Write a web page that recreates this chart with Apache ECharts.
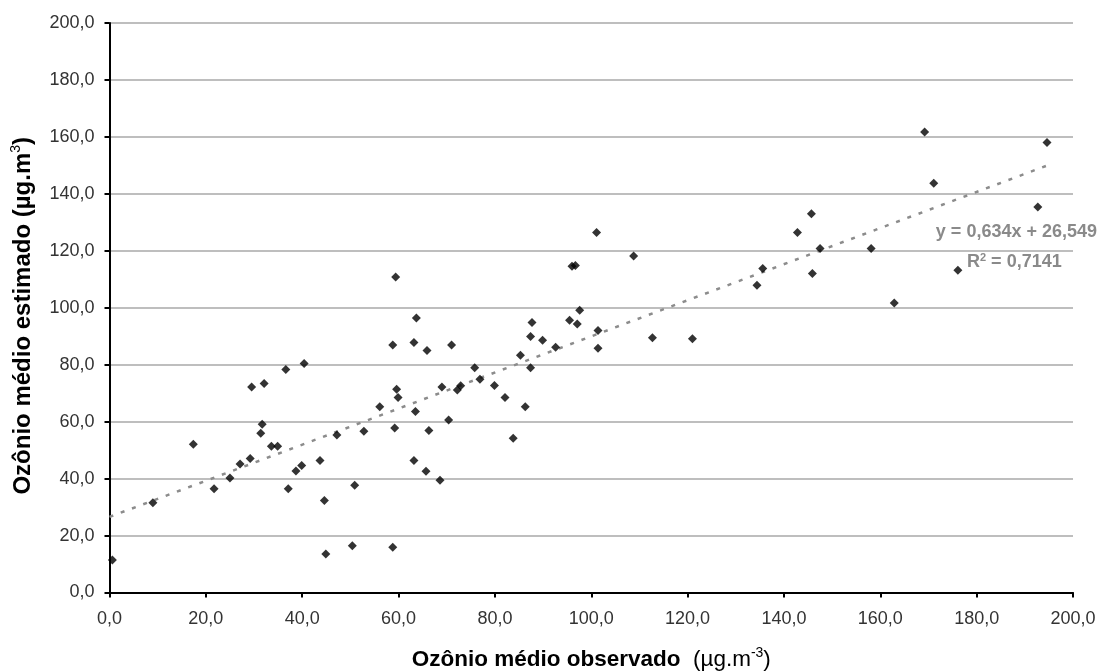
<!DOCTYPE html>
<html><head><meta charset="utf-8">
<script src="https://cdn.jsdelivr.net/npm/echarts@6/dist/echarts.min.js"></script>
<style>html,body{margin:0;padding:0;background:#fff}#c{width:1099px;height:671px}</style>
</head><body><div id="c"></div>
<script>
const observed = [0.6,9.0,17.4,21.7,25.0,27.1,29.2,29.5,32.1,31.7,31.4,33.6,34.9,36.6,37.1,38.7,39.9,40.4,43.7,44.6,44.9,47.2,50.4,50.9,
  59.4,63.7,58.8,63.2,65.9,71.0,59.6,59.9,56.1,52.8,59.2,63.5,66.3,69.0,70.4,72.2,72.9,75.8,76.9,79.9,82.1,86.3,83.8,63.2,65.7,68.6,58.8,
  85.3,87.4,87.7,87.4,89.9,92.6,95.5,97.1,96.0,96.7,97.6,101.1,108.8,101.4,101.4,112.7,121.0,134.4,
  135.6,142.8,145.7,145.9,147.5,158.1,162.9,169.2,171.1,176.1,192.7,194.6];
const estimated = [11.4,31.5,52.1,36.4,40.2,45.1,47.1,72.2,73.4,59.1,55.9,51.4,51.4,78.3,36.4,42.7,44.6,80.4,46.4,32.3,13.5,55.3,16.4,37.7,
  110.8,96.4,86.9,87.8,85.0,86.9,71.4,68.5,65.2,56.6,57.8,63.6,56.9,72.2,60.6,71.1,72.6,78.9,74.9,72.7,68.5,65.2,54.2,46.4,42.6,39.4,15.9,
  83.3,89.9,94.8,78.9,88.6,86.1,95.6,94.3,114.6,114.8,99.1,126.4,118.2,92.0,85.8,89.5,89.1,107.9,
  113.8,126.4,133.0,112.0,120.8,120.8,101.7,161.7,143.7,113.2,135.4,158.0];
const xTicks = [0,20,40,60,80,100,120,140,160,180,200];
const trendSlope = 0.634, trendIntercept = 26.549;
const trendX = [0, 195];
const eqLabel = 'y = 0,634x + 26,549';
const r2Value = '0,7141';

const pts = observed.map((x,i)=>[x, estimated[i]]);
const trend = trendX.map(x=>[x, trendSlope*x + trendIntercept]);
const fmt = v => v.toFixed(1).replace('.', ',');
const chart = echarts.init(document.getElementById('c'));
const mkRich = (fs)=>({
  a:{fontFamily:'Liberation Sans',fontSize:fs,fontWeight:'bold',color:'#000'},
  b:{fontFamily:'Liberation Sans',fontSize:fs,color:'#000'},
  s:{fontFamily:'Liberation Sans',fontSize:Math.round(fs*0.6),color:'#000',verticalAlign:'top',padding:[0,0,Math.round(fs*0.55),0]}
});
chart.setOption({
  animation:false,
  backgroundColor:'#fff',
  grid:{left:109.5,right:26,top:23,bottom:78.5,containLabel:false,outerBoundsMode:'none'},
  xAxis:{type:'value',min:0,max:200,interval:20,
    name:'{a|Ozônio médio observado}{b|  (µg.m}{s|-3}{b|)}',nameLocation:'middle',nameGap:54,
    nameTextStyle:{rich:mkRich(22.5)},
    axisLine:{lineStyle:{color:'#000',width:2}},
    axisTick:{show:true,length:5,lineStyle:{color:'#000',width:2}},
    axisLabel:{fontFamily:'Liberation Sans',fontSize:18,color:'#333',margin:18,formatter:fmt},
    splitLine:{show:false}},
  yAxis:{type:'value',min:0,max:200,interval:20,
    name:'{a|Ozônio médio estimado (µg.m}{s|3}{a|)}',nameLocation:'middle',nameGap:73,nameRotate:90,
    nameTextStyle:{rich:mkRich(24),padding:[0,16,0,0]},
    axisLine:{show:true,lineStyle:{color:'#000',width:2}},
    axisTick:{show:true,length:5,lineStyle:{color:'#000',width:2}},
    axisLabel:{fontFamily:'Liberation Sans',fontSize:18,color:'#333',margin:15,formatter:fmt},
    splitLine:{show:true,lineStyle:{color:'#a8a8a8',width:1.5}}},
  series:[
    {type:'line',data:trend,symbol:'none',z:1,
      lineStyle:{color:'#8c8c8c',width:2.5,type:[4,8]}},
    {type:'scatter',data:pts,symbol:'diamond',symbolSize:9,z:3,
      itemStyle:{color:'#000'}}
  ],
  graphic:[
    {type:'text',right:2,top:223,style:{text:eqLabel,font:'bold 18px "Liberation Sans"',fill:'#8a8a8a'}},
    {type:'text',left:967,top:252,style:{rich:{r:{font:'bold 18px "Liberation Sans"',fill:'#8a8a8a'},s:{font:'bold 11px "Liberation Sans"',fill:'#8a8a8a',verticalAlign:'top',padding:[0,0,9,0]}},text:'{r|R}{s|2}{r| = '+r2Value+'}'}}
  ]
});
</script></body></html>
